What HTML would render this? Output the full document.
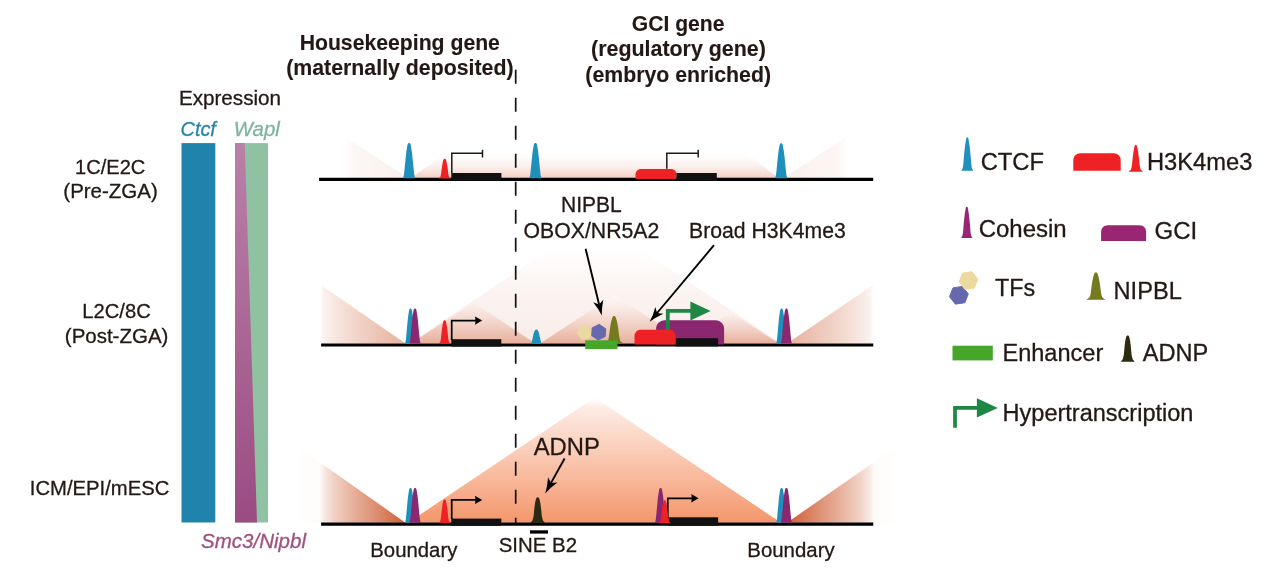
<!DOCTYPE html>
<html><head><meta charset="utf-8"><title>Model</title>
<style>
html,body{margin:0;padding:0;background:#ffffff;}
body{width:1269px;height:585px;overflow:hidden;}
svg{display:block;will-change:transform;}
svg text{font-family:"Liberation Sans",sans-serif;}
</style></head>
<body>
<svg width="1269" height="585" viewBox="0 0 1269 585">
<defs>
<linearGradient id="g1" gradientUnits="userSpaceOnUse" x1="0" y1="152" x2="0" y2="178.5"><stop offset="0" stop-color="#fefbfa" stop-opacity="0"/><stop offset="0.3" stop-color="#fdf8f6" stop-opacity="1"/><stop offset="0.51" stop-color="#fbf1ee" stop-opacity="1"/><stop offset="0.68" stop-color="#fae7e1" stop-opacity="1"/><stop offset="0.83" stop-color="#f8dbd1" stop-opacity="1"/><stop offset="1" stop-color="#f5ccbe" stop-opacity="1"/></linearGradient>
<linearGradient id="g1l" gradientUnits="userSpaceOnUse" x1="344" y1="0" x2="409" y2="0"><stop offset="0" stop-color="#fdfaf8" stop-opacity="0"/><stop offset="0.12" stop-color="#fcf8f6" stop-opacity="1"/><stop offset="1" stop-color="#faf0ec" stop-opacity="1"/></linearGradient>
<linearGradient id="g1r" gradientUnits="userSpaceOnUse" x1="849" y1="0" x2="783" y2="0"><stop offset="0" stop-color="#fdfaf8" stop-opacity="0"/><stop offset="0.12" stop-color="#fcf8f6" stop-opacity="1"/><stop offset="1" stop-color="#faf0ec" stop-opacity="1"/></linearGradient>
<linearGradient id="g2big" gradientUnits="userSpaceOnUse" x1="0" y1="247" x2="0" y2="344"><stop offset="0" stop-color="#faf2ef" stop-opacity="0"/><stop offset="0.45" stop-color="#faf1ee" stop-opacity="0.8"/><stop offset="0.85" stop-color="#f9eeea" stop-opacity="1"/><stop offset="1" stop-color="#f8ebe6" stop-opacity="1"/></linearGradient>
<linearGradient id="g2s" gradientUnits="userSpaceOnUse" x1="0" y1="296" x2="0" y2="344"><stop offset="0" stop-color="#fdf8f6" stop-opacity="1"/><stop offset="0.3" stop-color="#f8e7e1" stop-opacity="1"/><stop offset="0.65" stop-color="#f0cdc1" stop-opacity="1"/><stop offset="1" stop-color="#e8ae9a" stop-opacity="1"/></linearGradient>
<linearGradient id="g2s3" gradientUnits="userSpaceOnUse" x1="0" y1="312" x2="0" y2="344"><stop offset="0" stop-color="#fcf5f2" stop-opacity="1"/><stop offset="0.3" stop-color="#f6e1da" stop-opacity="1"/><stop offset="0.65" stop-color="#efcabd" stop-opacity="1"/><stop offset="1" stop-color="#e8ae9a" stop-opacity="1"/></linearGradient>
<linearGradient id="g2l" gradientUnits="userSpaceOnUse" x1="320" y1="0" x2="406" y2="0"><stop offset="0" stop-color="#fcf5f2" stop-opacity="0"/><stop offset="0.04" stop-color="#fbf3f0" stop-opacity="1"/><stop offset="0.13" stop-color="#f8eae5" stop-opacity="1"/><stop offset="0.37" stop-color="#f3d8ce" stop-opacity="1"/><stop offset="0.6" stop-color="#eec9bc" stop-opacity="1"/><stop offset="0.84" stop-color="#eabaa9" stop-opacity="1"/><stop offset="1" stop-color="#e8b19e" stop-opacity="1"/></linearGradient>
<linearGradient id="g2r" gradientUnits="userSpaceOnUse" x1="874" y1="0" x2="787" y2="0"><stop offset="0" stop-color="#fcf5f2" stop-opacity="0"/><stop offset="0.04" stop-color="#fbf3f0" stop-opacity="1"/><stop offset="0.13" stop-color="#f8eae5" stop-opacity="1"/><stop offset="0.37" stop-color="#f3d8ce" stop-opacity="1"/><stop offset="0.6" stop-color="#eec9bc" stop-opacity="1"/><stop offset="0.84" stop-color="#eabaa9" stop-opacity="1"/><stop offset="1" stop-color="#e8b19e" stop-opacity="1"/></linearGradient>
<linearGradient id="g3" gradientUnits="userSpaceOnUse" x1="0" y1="397" x2="0" y2="523"><stop offset="0" stop-color="#fef4f0" stop-opacity="0"/><stop offset="0.08" stop-color="#fdece5" stop-opacity="1"/><stop offset="0.35" stop-color="#fbd4c2" stop-opacity="1"/><stop offset="0.67" stop-color="#f8b698" stop-opacity="1"/><stop offset="1" stop-color="#f4966a" stop-opacity="1"/></linearGradient>
<linearGradient id="g3l" gradientUnits="userSpaceOnUse" x1="299" y1="0" x2="406" y2="0"><stop offset="0" stop-color="#fffefd" stop-opacity="1"/><stop offset="0.19" stop-color="#fefcfa" stop-opacity="1"/><stop offset="0.24" stop-color="#f8e8e1" stop-opacity="1"/><stop offset="0.327" stop-color="#f1d1c5" stop-opacity="1"/><stop offset="0.486" stop-color="#e8b4a0" stop-opacity="1"/><stop offset="0.68" stop-color="#df9479" stop-opacity="1"/><stop offset="0.87" stop-color="#d5734f" stop-opacity="1"/><stop offset="1" stop-color="#cc5b34" stop-opacity="1"/></linearGradient>
<linearGradient id="g3r" gradientUnits="userSpaceOnUse" x1="895" y1="0" x2="787" y2="0"><stop offset="0" stop-color="#fffefd" stop-opacity="1"/><stop offset="0.19" stop-color="#fefcfa" stop-opacity="1"/><stop offset="0.24" stop-color="#f8e8e1" stop-opacity="1"/><stop offset="0.327" stop-color="#f1d1c5" stop-opacity="1"/><stop offset="0.486" stop-color="#e8b4a0" stop-opacity="1"/><stop offset="0.68" stop-color="#df9479" stop-opacity="1"/><stop offset="0.87" stop-color="#d5734f" stop-opacity="1"/><stop offset="1" stop-color="#cc5b34" stop-opacity="1"/></linearGradient>
<linearGradient id="gp" gradientUnits="userSpaceOnUse" x1="0" y1="143" x2="0" y2="522"><stop offset="0" stop-color="#b981a8" stop-opacity="1"/><stop offset="1" stop-color="#9b4c82" stop-opacity="1"/></linearGradient>
</defs>
<rect x="181.5" y="143.1" width="33.8" height="379.4" fill="#2083ab"/>
<rect x="235" y="143.1" width="33" height="379.4" fill="#91c1a3"/>
<polygon points="235,143.1 244.7,143.1 257,522.5 235,522.5" fill="url(#gp)"/>
<text x="178.90" y="104.8" font-size="20.5" text-anchor="start" font-weight="normal" font-style="normal" fill="#231815" stroke="#231815" stroke-width="0.3" textLength="102.19" lengthAdjust="spacingAndGlyphs">Expression</text>
<text x="180.50" y="135.5" font-size="20.5" text-anchor="start" font-weight="normal" font-style="italic" fill="#2a84aa" stroke="#2a84aa" stroke-width="0.3" textLength="35.41" lengthAdjust="spacingAndGlyphs">Ctcf</text>
<text x="233.72" y="135.5" font-size="20.5" text-anchor="start" font-weight="normal" font-style="italic" fill="#7fb3a4" stroke="#7fb3a4" stroke-width="0.3" textLength="46.03" lengthAdjust="spacingAndGlyphs">Wapl</text>
<text x="201.04" y="548" font-size="20.5" text-anchor="start" font-weight="normal" font-style="italic" fill="#a0517f" stroke="#a0517f" stroke-width="0.3" textLength="104.91" lengthAdjust="spacingAndGlyphs">Smc3/Nipbl</text>
<text x="75.10" y="173.5" font-size="20.5" text-anchor="start" font-weight="normal" font-style="normal" fill="#231815" stroke="#231815" stroke-width="0.3" textLength="70.19" lengthAdjust="spacingAndGlyphs">1C/E2C</text>
<text x="63.32" y="197.5" font-size="20.5" text-anchor="start" font-weight="normal" font-style="normal" fill="#231815" stroke="#231815" stroke-width="0.3" textLength="94.48" lengthAdjust="spacingAndGlyphs">(Pre-ZGA)</text>
<text x="82.34" y="318" font-size="20.5" text-anchor="start" font-weight="normal" font-style="normal" fill="#231815" stroke="#231815" stroke-width="0.3" textLength="68.39" lengthAdjust="spacingAndGlyphs">L2C/8C</text>
<text x="64.82" y="342.7" font-size="20.5" text-anchor="start" font-weight="normal" font-style="normal" fill="#231815" stroke="#231815" stroke-width="0.3" textLength="103.58" lengthAdjust="spacingAndGlyphs">(Post-ZGA)</text>
<text x="29.83" y="494.9" font-size="20.5" text-anchor="start" font-weight="normal" font-style="normal" fill="#231815" stroke="#231815" stroke-width="0.3" textLength="139.48" lengthAdjust="spacingAndGlyphs">ICM/EPI/mESC</text>
<text x="299.67" y="49.6" font-size="22.0" text-anchor="start" font-weight="bold" font-style="normal" fill="#231815" stroke="#231815" stroke-width="0.12" textLength="200.26" lengthAdjust="spacingAndGlyphs">Housekeeping gene</text>
<text x="286.23" y="74.6" font-size="22.0" text-anchor="start" font-weight="bold" font-style="normal" fill="#231815" stroke="#231815" stroke-width="0.12" textLength="227.32" lengthAdjust="spacingAndGlyphs">(maternally deposited)</text>
<text x="631.75" y="31.3" font-size="22.0" text-anchor="start" font-weight="bold" font-style="normal" fill="#231815" stroke="#231815" stroke-width="0.12" textLength="92.78" lengthAdjust="spacingAndGlyphs">GCI gene</text>
<text x="591.03" y="56.4" font-size="22.0" text-anchor="start" font-weight="bold" font-style="normal" fill="#231815" stroke="#231815" stroke-width="0.12" textLength="174.86" lengthAdjust="spacingAndGlyphs">(regulatory gene)</text>
<text x="585.34" y="81.6" font-size="22.0" text-anchor="start" font-weight="bold" font-style="normal" fill="#231815" stroke="#231815" stroke-width="0.12" textLength="185.72" lengthAdjust="spacingAndGlyphs">(embryo enriched)</text>
<polygon points="344.4,137 409,178.3 344.4,178.3" fill="url(#g1l)"/>
<polygon points="849,135 783,178.3 849,178.3" fill="url(#g1r)"/>
<polygon points="410,178.3 448.5,152.5 745,152.5 779,178.3" fill="url(#g1)"/>
<line x1="319.1" y1="179.4" x2="873.2" y2="179.4" stroke="#000" stroke-width="3.3"/>
<path d="M403.10,178.30 L403.82,175.33 L404.19,172.51 L404.46,169.84 L404.72,167.33 L404.95,164.96 L405.17,162.73 L405.38,160.64 L405.58,158.70 L405.76,156.88 L405.93,155.20 L406.11,153.64 L406.29,152.21 L406.47,150.90 L406.66,149.71 L406.85,148.63 L407.02,147.66 L407.17,146.80 L407.31,146.04 L407.42,145.37 L407.53,144.80 L407.65,144.31 L407.81,143.91 L407.99,143.59 L408.19,143.34 L408.42,143.15 L408.69,143.02 L408.95,142.94 L409.07,142.91 L409.10,142.90 L409.13,142.91 L409.25,142.94 L409.51,143.02 L409.78,143.15 L410.01,143.34 L410.21,143.59 L410.39,143.91 L410.55,144.31 L410.67,144.80 L410.78,145.37 L410.89,146.04 L411.03,146.80 L411.18,147.66 L411.35,148.63 L411.54,149.71 L411.73,150.90 L411.91,152.21 L412.09,153.64 L412.27,155.20 L412.44,156.88 L412.62,158.70 L412.82,160.64 L413.03,162.73 L413.25,164.96 L413.48,167.33 L413.74,169.84 L414.01,172.51 L414.38,175.33 L415.10,178.30 Z" fill="#1f90bc"/>
<path d="M529.40,178.30 L530.12,175.33 L530.49,172.51 L530.76,169.84 L531.02,167.33 L531.25,164.96 L531.47,162.73 L531.68,160.64 L531.88,158.70 L532.06,156.88 L532.23,155.20 L532.41,153.64 L532.59,152.21 L532.77,150.90 L532.96,149.71 L533.15,148.63 L533.32,147.66 L533.47,146.80 L533.61,146.04 L533.72,145.37 L533.83,144.80 L533.95,144.31 L534.11,143.91 L534.29,143.59 L534.49,143.34 L534.72,143.15 L534.99,143.02 L535.25,142.94 L535.37,142.91 L535.40,142.90 L535.43,142.91 L535.55,142.94 L535.81,143.02 L536.08,143.15 L536.31,143.34 L536.51,143.59 L536.69,143.91 L536.85,144.31 L536.97,144.80 L537.08,145.37 L537.19,146.04 L537.33,146.80 L537.48,147.66 L537.65,148.63 L537.84,149.71 L538.03,150.90 L538.21,152.21 L538.39,153.64 L538.57,155.20 L538.74,156.88 L538.92,158.70 L539.12,160.64 L539.33,162.73 L539.55,164.96 L539.78,167.33 L540.04,169.84 L540.31,172.51 L540.68,175.33 L541.40,178.30 Z" fill="#1f90bc"/>
<path d="M775.20,178.30 L775.92,175.35 L776.29,172.56 L776.56,169.91 L776.82,167.42 L777.05,165.07 L777.27,162.86 L777.48,160.79 L777.68,158.86 L777.86,157.06 L778.03,155.40 L778.21,153.85 L778.39,152.43 L778.57,151.14 L778.76,149.95 L778.95,148.88 L779.12,147.92 L779.27,147.07 L779.41,146.31 L779.52,145.65 L779.63,145.08 L779.75,144.60 L779.91,144.20 L780.09,143.88 L780.29,143.63 L780.52,143.45 L780.79,143.32 L781.05,143.24 L781.17,143.21 L781.20,143.20 L781.23,143.21 L781.35,143.24 L781.61,143.32 L781.88,143.45 L782.11,143.63 L782.31,143.88 L782.49,144.20 L782.65,144.60 L782.77,145.08 L782.88,145.65 L782.99,146.31 L783.13,147.07 L783.28,147.92 L783.45,148.88 L783.64,149.95 L783.83,151.14 L784.01,152.43 L784.19,153.85 L784.37,155.40 L784.54,157.06 L784.72,158.86 L784.92,160.79 L785.13,162.86 L785.35,165.07 L785.58,167.42 L785.84,169.91 L786.11,172.56 L786.48,175.35 L787.20,178.30 Z" fill="#1f90bc"/>
<path d="M438.50,178.60 L440.34,176.93 L440.82,175.34 L441.08,173.85 L441.26,172.43 L441.41,171.10 L441.55,169.85 L441.70,168.68 L441.85,167.58 L442.00,166.56 L442.15,165.61 L442.29,164.74 L442.43,163.94 L442.58,163.20 L442.71,162.53 L442.85,161.92 L442.99,161.38 L443.12,160.89 L443.25,160.46 L443.36,160.09 L443.48,159.77 L443.60,159.50 L443.73,159.27 L443.87,159.09 L444.03,158.95 L444.22,158.84 L444.45,158.77 L444.61,158.72 L444.68,158.70 L444.70,158.70 L444.72,158.70 L444.79,158.72 L444.95,158.77 L445.18,158.84 L445.37,158.95 L445.53,159.09 L445.67,159.27 L445.80,159.50 L445.92,159.77 L446.04,160.09 L446.15,160.46 L446.28,160.89 L446.41,161.38 L446.55,161.92 L446.69,162.53 L446.82,163.20 L446.97,163.94 L447.11,164.74 L447.25,165.61 L447.40,166.56 L447.55,167.58 L447.70,168.68 L447.85,169.85 L447.99,171.10 L448.14,172.43 L448.32,173.85 L448.58,175.34 L449.06,176.93 L450.90,178.60 Z" fill="#ee2224"/>
<rect x="451.3" y="173" width="50.1" height="7.6" fill="#111111"/>
<path d="M451.8,173 V153.3 H482.5 M482.5,149.8 V157.6" stroke="#1a1a1a" stroke-width="1.5" fill="none"/>
<path d="M635.5,179 L635.5,174.4 C635.5,171.375 637.975,168.9 641.0,168.9 L671.1,168.9 C674.125,168.9 676.6,171.375 676.6,174.4 L676.6,179 Z" fill="#ee2224"/>
<rect x="676.4" y="173" width="40.4" height="7.6" fill="#111111"/>
<path d="M666.8,168.8 V153.3 H698.2 M698.2,149.8 V157.6" stroke="#1a1a1a" stroke-width="1.5" fill="none"/>
<polygon points="320.2,284.4 405.5,343.6 320.2,343.6" fill="url(#g2l)"/>
<polygon points="873.8,284.4 787,343.6 873.8,343.6" fill="url(#g2r)"/>
<polygon points="409,343.6 595,219 781,343.6" fill="url(#g2big)"/>
<polygon points="411,343.6 473.4,302.6 535.5,343.6" fill="url(#g2s)"/>
<polygon points="540,343.6 614.3,295 689,343.6" fill="url(#g2s)"/>
<polygon points="684,343.6 730.6,312 779,343.6" fill="url(#g2s3)"/>
<line x1="321.1" y1="345" x2="873.3" y2="345" stroke="#000" stroke-width="3.2"/>
<path d="M405.10,343.60 L405.75,340.65 L406.08,337.86 L406.32,335.21 L406.56,332.72 L406.77,330.37 L406.96,328.16 L407.15,326.09 L407.33,324.16 L407.49,322.36 L407.65,320.70 L407.81,319.15 L407.97,317.73 L408.13,316.44 L408.30,315.25 L408.47,314.18 L408.63,313.22 L408.76,312.37 L408.89,311.61 L408.99,310.95 L409.08,310.38 L409.20,309.90 L409.34,309.50 L409.50,309.18 L409.68,308.93 L409.89,308.75 L410.13,308.62 L410.36,308.54 L410.48,308.51 L410.50,308.50 L410.52,308.51 L410.64,308.54 L410.87,308.62 L411.11,308.75 L411.32,308.93 L411.50,309.18 L411.66,309.50 L411.80,309.90 L411.92,310.38 L412.01,310.95 L412.11,311.61 L412.24,312.37 L412.37,313.22 L412.53,314.18 L412.70,315.25 L412.87,316.44 L413.03,317.73 L413.19,319.15 L413.35,320.70 L413.51,322.36 L413.67,324.16 L413.85,326.09 L414.04,328.16 L414.23,330.37 L414.44,332.72 L414.68,335.21 L414.92,337.86 L415.25,340.65 L415.90,343.60 Z" fill="#1f90bc"/>
<path d="M409.48,343.60 L410.15,340.65 L410.48,337.86 L410.73,335.21 L410.97,332.72 L411.19,330.37 L411.39,328.16 L411.58,326.09 L411.76,324.16 L411.92,322.36 L412.09,320.70 L412.25,319.15 L412.41,317.73 L412.58,316.44 L412.76,315.25 L412.93,314.18 L413.08,313.22 L413.23,312.37 L413.35,311.61 L413.45,310.95 L413.55,310.38 L413.67,309.90 L413.82,309.50 L413.98,309.18 L414.16,308.93 L414.38,308.75 L414.63,308.62 L414.86,308.54 L414.97,308.51 L415.00,308.50 L415.03,308.51 L415.14,308.54 L415.37,308.62 L415.62,308.75 L415.84,308.93 L416.02,309.18 L416.18,309.50 L416.33,309.90 L416.45,310.38 L416.55,310.95 L416.65,311.61 L416.77,312.37 L416.92,313.22 L417.07,314.18 L417.24,315.25 L417.42,316.44 L417.59,317.73 L417.75,319.15 L417.91,320.70 L418.08,322.36 L418.24,324.16 L418.42,326.09 L418.61,328.16 L418.81,330.37 L419.03,332.72 L419.27,335.21 L419.52,337.86 L419.85,340.65 L420.52,343.60 Z" fill="#8b2671"/>
<path d="M776.20,343.60 L776.85,340.65 L777.18,337.86 L777.42,335.21 L777.66,332.72 L777.87,330.37 L778.06,328.16 L778.25,326.09 L778.43,324.16 L778.59,322.36 L778.75,320.70 L778.91,319.15 L779.07,317.73 L779.23,316.44 L779.40,315.25 L779.57,314.18 L779.73,313.22 L779.86,312.37 L779.99,311.61 L780.09,310.95 L780.18,310.38 L780.30,309.90 L780.44,309.50 L780.60,309.18 L780.78,308.93 L780.99,308.75 L781.23,308.62 L781.46,308.54 L781.58,308.51 L781.60,308.50 L781.62,308.51 L781.74,308.54 L781.97,308.62 L782.21,308.75 L782.42,308.93 L782.60,309.18 L782.76,309.50 L782.90,309.90 L783.02,310.38 L783.11,310.95 L783.21,311.61 L783.34,312.37 L783.47,313.22 L783.63,314.18 L783.80,315.25 L783.97,316.44 L784.13,317.73 L784.29,319.15 L784.45,320.70 L784.61,322.36 L784.77,324.16 L784.95,326.09 L785.14,328.16 L785.33,330.37 L785.54,332.72 L785.78,335.21 L786.02,337.86 L786.35,340.65 L787.00,343.60 Z" fill="#1f90bc"/>
<path d="M780.88,343.60 L781.55,340.65 L781.88,337.86 L782.13,335.21 L782.37,332.72 L782.59,330.37 L782.79,328.16 L782.98,326.09 L783.16,324.16 L783.32,322.36 L783.49,320.70 L783.65,319.15 L783.81,317.73 L783.98,316.44 L784.16,315.25 L784.33,314.18 L784.48,313.22 L784.63,312.37 L784.75,311.61 L784.85,310.95 L784.95,310.38 L785.07,309.90 L785.22,309.50 L785.38,309.18 L785.56,308.93 L785.78,308.75 L786.03,308.62 L786.26,308.54 L786.37,308.51 L786.40,308.50 L786.43,308.51 L786.54,308.54 L786.77,308.62 L787.02,308.75 L787.24,308.93 L787.42,309.18 L787.58,309.50 L787.73,309.90 L787.85,310.38 L787.95,310.95 L788.05,311.61 L788.17,312.37 L788.32,313.22 L788.47,314.18 L788.64,315.25 L788.82,316.44 L788.99,317.73 L789.15,319.15 L789.31,320.70 L789.48,322.36 L789.64,324.16 L789.82,326.09 L790.01,328.16 L790.21,330.37 L790.43,332.72 L790.67,335.21 L790.92,337.86 L791.25,340.65 L791.92,343.60 Z" fill="#8b2671"/>
<path d="M438.40,343.90 L440.24,341.90 L440.72,340.01 L440.98,338.21 L441.16,336.52 L441.31,334.93 L441.45,333.43 L441.60,332.03 L441.75,330.72 L441.90,329.50 L442.05,328.37 L442.19,327.32 L442.33,326.36 L442.48,325.48 L442.61,324.68 L442.75,323.95 L442.89,323.30 L443.02,322.72 L443.15,322.21 L443.26,321.76 L443.38,321.38 L443.50,321.05 L443.63,320.78 L443.77,320.56 L443.93,320.39 L444.12,320.27 L444.35,320.18 L444.51,320.13 L444.58,320.11 L444.60,320.10 L444.62,320.11 L444.69,320.13 L444.85,320.18 L445.08,320.27 L445.27,320.39 L445.43,320.56 L445.57,320.78 L445.70,321.05 L445.82,321.38 L445.94,321.76 L446.05,322.21 L446.18,322.72 L446.31,323.30 L446.45,323.95 L446.59,324.68 L446.72,325.48 L446.87,326.36 L447.01,327.32 L447.15,328.37 L447.30,329.50 L447.45,330.72 L447.60,332.03 L447.75,333.43 L447.89,334.93 L448.04,336.52 L448.22,338.21 L448.48,340.01 L448.96,341.90 L450.80,343.90 Z" fill="#ee2224"/>
<path d="M531.40,343.60 C533.30,335.79 533.90,329.40 536.40,329.40 C538.90,329.40 539.50,335.79 541.40,343.60 Z" fill="#1f90bc"/>
<rect x="451.3" y="339.2" width="50" height="7.4" fill="#111111"/>
<path d="M451.7,340 V320.6 H476" stroke="#000" stroke-width="1.7" fill="none"/><path d="M475,316.40000000000003 L482.2,320.6 L475,324.8 Q476,320.6 475,316.40000000000003 Z" fill="#000"/>
<polygon points="591.87,331.96 588.79,338.58 581.51,339.22 577.33,333.24 580.41,326.62 587.69,325.98" fill="#ecd9a0" stroke="#ecd9a0" stroke-width="1" stroke-linejoin="round"/>
<polygon points="605.17,336.56 598.16,339.98 591.69,335.62 592.23,327.84 599.24,324.42 605.71,328.78" fill="#6668ae" stroke="#6668ae" stroke-width="1" stroke-linejoin="round"/>
<path d="M604.50,343.80 L607.61,341.46 L608.48,339.24 L608.86,337.13 L609.14,335.15 L609.39,333.28 L609.60,331.53 L609.80,329.89 L610.02,328.35 L610.23,326.92 L610.45,325.59 L610.66,324.37 L610.87,323.24 L611.08,322.21 L611.29,321.27 L611.51,320.42 L611.72,319.65 L611.92,318.97 L612.11,318.37 L612.30,317.85 L612.47,317.40 L612.64,317.02 L612.82,316.70 L613.01,316.44 L613.22,316.24 L613.45,316.10 L613.75,316.00 L613.97,315.93 L614.08,315.91 L614.10,315.90 L614.12,315.91 L614.23,315.93 L614.45,316.00 L614.75,316.10 L614.98,316.24 L615.19,316.44 L615.38,316.70 L615.56,317.02 L615.73,317.40 L615.90,317.85 L616.09,318.37 L616.28,318.97 L616.48,319.65 L616.69,320.42 L616.91,321.27 L617.12,322.21 L617.33,323.24 L617.54,324.37 L617.75,325.59 L617.97,326.92 L618.18,328.35 L618.40,329.89 L618.60,331.53 L618.81,333.28 L619.06,335.15 L619.34,337.13 L619.72,339.24 L620.59,341.46 L623.70,343.80 Z" fill="#767a1f"/>
<rect x="585.2" y="340.3" width="32.3" height="8.8" fill="#45a62a"/>
<path d="M656.1,344.5 L656.1,328.8 C656.1,324.125 659.9250000000001,320.3 664.6,320.3 L715.6,320.3 C720.275,320.3 724.1,324.125 724.1,328.8 L724.1,344.5 Z" fill="#8b2671"/>
<rect x="675.6" y="338.2" width="42.5" height="8.2" fill="#111111"/>
<path d="M634.5,344.5 L634.5,335.7 C634.5,332.4 637.2,329.7 640.5,329.7 L669.6,329.7 C672.9,329.7 675.6,332.4 675.6,335.7 L675.6,344.5 Z" fill="#ee2224"/>
<path d="M667.8,330 V310.9 H691" stroke="#1f8746" stroke-width="3.8" fill="none"/>
<polygon points="690.4,301.5 710.6,311 690.4,320.6" fill="#1f8746"/>
<text x="560.96" y="211.8" font-size="21.4" text-anchor="start" font-weight="normal" font-style="normal" fill="#231815" stroke="#231815" stroke-width="0.3" textLength="60.82" lengthAdjust="spacingAndGlyphs">NIPBL</text>
<text x="523.49" y="237.8" font-size="21.4" text-anchor="start" font-weight="normal" font-style="normal" fill="#231815" stroke="#231815" stroke-width="0.3" textLength="135.80" lengthAdjust="spacingAndGlyphs">OBOX/NR5A2</text>
<text x="689.05" y="237.8" font-size="21.4" text-anchor="start" font-weight="normal" font-style="normal" fill="#231815" stroke="#231815" stroke-width="0.3" textLength="156.66" lengthAdjust="spacingAndGlyphs">Broad H3K4me3</text>
<line x1="585.60" y1="248.70" x2="599.09" y2="304.42" stroke="#000" stroke-width="1.9"/><path d="M601.80,315.60 Q598.42,308.70 593.22,302.25 L599.09,304.42 L603.32,299.80 Q601.65,307.92 601.80,315.60 Z" fill="#000"/>
<line x1="714.00" y1="245.20" x2="657.09" y2="312.99" stroke="#000" stroke-width="1.9"/><path d="M649.70,321.80 Q653.25,314.99 655.36,306.97 L657.09,312.99 L663.33,313.65 Q655.80,317.13 649.70,321.80 Z" fill="#000"/>
<polygon points="299,447.5 405.4,522.7 299,522.7" fill="url(#g3l)"/>
<polygon points="895,447.5 787,522.7 895,522.7" fill="url(#g3r)"/>
<polygon points="408,522.7 594.6,397.4 781,522.7" fill="url(#g3)"/>
<line x1="321.1" y1="524.2" x2="873.3" y2="524.2" stroke="#000" stroke-width="3.2"/>
<path d="M405.10,522.70 L405.75,519.78 L406.08,517.01 L406.32,514.39 L406.56,511.91 L406.77,509.58 L406.96,507.39 L407.15,505.34 L407.33,503.43 L407.49,501.65 L407.65,499.99 L407.81,498.46 L407.97,497.06 L408.13,495.77 L408.30,494.60 L408.47,493.54 L408.63,492.58 L408.76,491.73 L408.89,490.98 L408.99,490.33 L409.08,489.77 L409.20,489.29 L409.34,488.90 L409.50,488.58 L409.68,488.33 L409.89,488.15 L410.13,488.02 L410.36,487.94 L410.48,487.91 L410.50,487.90 L410.52,487.91 L410.64,487.94 L410.87,488.02 L411.11,488.15 L411.32,488.33 L411.50,488.58 L411.66,488.90 L411.80,489.29 L411.92,489.77 L412.01,490.33 L412.11,490.98 L412.24,491.73 L412.37,492.58 L412.53,493.54 L412.70,494.60 L412.87,495.77 L413.03,497.06 L413.19,498.46 L413.35,499.99 L413.51,501.65 L413.67,503.43 L413.85,505.34 L414.04,507.39 L414.23,509.58 L414.44,511.91 L414.68,514.39 L414.92,517.01 L415.25,519.78 L415.90,522.70 Z" fill="#1f90bc"/>
<path d="M409.58,522.70 L410.25,519.78 L410.58,517.01 L410.83,514.39 L411.07,511.91 L411.29,509.58 L411.49,507.39 L411.68,505.34 L411.86,503.43 L412.02,501.65 L412.19,499.99 L412.35,498.46 L412.51,497.06 L412.68,495.77 L412.86,494.60 L413.03,493.54 L413.18,492.58 L413.33,491.73 L413.45,490.98 L413.55,490.33 L413.65,489.77 L413.77,489.29 L413.92,488.90 L414.08,488.58 L414.26,488.33 L414.48,488.15 L414.73,488.02 L414.96,487.94 L415.07,487.91 L415.10,487.90 L415.13,487.91 L415.24,487.94 L415.47,488.02 L415.72,488.15 L415.94,488.33 L416.12,488.58 L416.28,488.90 L416.43,489.29 L416.55,489.77 L416.65,490.33 L416.75,490.98 L416.87,491.73 L417.02,492.58 L417.17,493.54 L417.34,494.60 L417.52,495.77 L417.69,497.06 L417.85,498.46 L418.01,499.99 L418.18,501.65 L418.34,503.43 L418.52,505.34 L418.71,507.39 L418.91,509.58 L419.13,511.91 L419.37,514.39 L419.62,517.01 L419.95,519.78 L420.62,522.70 Z" fill="#8b2671"/>
<path d="M776.20,522.70 L776.85,519.78 L777.18,517.01 L777.42,514.39 L777.66,511.91 L777.87,509.58 L778.06,507.39 L778.25,505.34 L778.43,503.43 L778.59,501.65 L778.75,499.99 L778.91,498.46 L779.07,497.06 L779.23,495.77 L779.40,494.60 L779.57,493.54 L779.73,492.58 L779.86,491.73 L779.99,490.98 L780.09,490.33 L780.18,489.77 L780.30,489.29 L780.44,488.90 L780.60,488.58 L780.78,488.33 L780.99,488.15 L781.23,488.02 L781.46,487.94 L781.58,487.91 L781.60,487.90 L781.62,487.91 L781.74,487.94 L781.97,488.02 L782.21,488.15 L782.42,488.33 L782.60,488.58 L782.76,488.90 L782.90,489.29 L783.02,489.77 L783.11,490.33 L783.21,490.98 L783.34,491.73 L783.47,492.58 L783.63,493.54 L783.80,494.60 L783.97,495.77 L784.13,497.06 L784.29,498.46 L784.45,499.99 L784.61,501.65 L784.77,503.43 L784.95,505.34 L785.14,507.39 L785.33,509.58 L785.54,511.91 L785.78,514.39 L786.02,517.01 L786.35,519.78 L787.00,522.70 Z" fill="#1f90bc"/>
<path d="M780.88,522.70 L781.55,519.78 L781.88,517.01 L782.13,514.39 L782.37,511.91 L782.59,509.58 L782.79,507.39 L782.98,505.34 L783.16,503.43 L783.32,501.65 L783.49,499.99 L783.65,498.46 L783.81,497.06 L783.98,495.77 L784.16,494.60 L784.33,493.54 L784.48,492.58 L784.63,491.73 L784.75,490.98 L784.85,490.33 L784.95,489.77 L785.07,489.29 L785.22,488.90 L785.38,488.58 L785.56,488.33 L785.78,488.15 L786.03,488.02 L786.26,487.94 L786.37,487.91 L786.40,487.90 L786.43,487.91 L786.54,487.94 L786.77,488.02 L787.02,488.15 L787.24,488.33 L787.42,488.58 L787.58,488.90 L787.73,489.29 L787.85,489.77 L787.95,490.33 L788.05,490.98 L788.17,491.73 L788.32,492.58 L788.47,493.54 L788.64,494.60 L788.82,495.77 L788.99,497.06 L789.15,498.46 L789.31,499.99 L789.48,501.65 L789.64,503.43 L789.82,505.34 L790.01,507.39 L790.21,509.58 L790.43,511.91 L790.67,514.39 L790.92,517.01 L791.25,519.78 L791.92,522.70 Z" fill="#8b2671"/>
<path d="M438.40,523.00 L440.24,521.02 L440.72,519.14 L440.98,517.36 L441.16,515.68 L441.31,514.10 L441.45,512.62 L441.60,511.23 L441.75,509.93 L441.90,508.72 L442.05,507.60 L442.19,506.56 L442.33,505.61 L442.48,504.74 L442.61,503.94 L442.75,503.22 L442.89,502.58 L443.02,502.00 L443.15,501.49 L443.26,501.05 L443.38,500.67 L443.50,500.34 L443.63,500.08 L443.77,499.86 L443.93,499.69 L444.12,499.57 L444.35,499.48 L444.51,499.43 L444.58,499.41 L444.60,499.40 L444.62,499.41 L444.69,499.43 L444.85,499.48 L445.08,499.57 L445.27,499.69 L445.43,499.86 L445.57,500.08 L445.70,500.34 L445.82,500.67 L445.94,501.05 L446.05,501.49 L446.18,502.00 L446.31,502.58 L446.45,503.22 L446.59,503.94 L446.72,504.74 L446.87,505.61 L447.01,506.56 L447.15,507.60 L447.30,508.72 L447.45,509.93 L447.60,511.23 L447.75,512.62 L447.89,514.10 L448.04,515.68 L448.22,517.36 L448.48,519.14 L448.96,521.02 L450.80,523.00 Z" fill="#ee2224"/>
<rect x="451.3" y="518.6" width="50" height="7.2" fill="#111111"/>
<path d="M451.7,519 V499.9 H476" stroke="#000" stroke-width="1.7" fill="none"/><path d="M475,495.7 L482.2,499.9 L475,504.09999999999997 Q476,499.9 475,495.7 Z" fill="#000"/>
<path d="M530.33,522.90 L532.26,520.74 L533.01,518.70 L533.47,516.76 L533.72,514.93 L533.89,513.21 L534.03,511.60 L534.18,510.08 L534.34,508.67 L534.49,507.35 L534.64,506.13 L534.79,505.00 L534.94,503.96 L535.09,503.01 L535.25,502.14 L535.41,501.36 L535.57,500.66 L535.73,500.03 L535.88,499.48 L536.01,498.99 L536.13,498.58 L536.26,498.23 L536.42,497.94 L536.62,497.70 L536.84,497.52 L537.09,497.38 L537.38,497.29 L537.58,497.23 L537.68,497.21 L537.70,497.20 L537.72,497.21 L537.82,497.23 L538.02,497.29 L538.31,497.38 L538.56,497.52 L538.78,497.70 L538.98,497.94 L539.14,498.23 L539.27,498.58 L539.39,498.99 L539.52,499.48 L539.67,500.03 L539.83,500.66 L539.99,501.36 L540.15,502.14 L540.31,503.01 L540.46,503.96 L540.61,505.00 L540.76,506.13 L540.91,507.35 L541.06,508.67 L541.22,510.08 L541.37,511.60 L541.51,513.21 L541.68,514.93 L541.93,516.76 L542.39,518.70 L543.14,520.74 L545.07,522.90 Z" fill="#2b2a12"/>
<rect x="530" y="530.3" width="18" height="3.3" fill="#000"/>
<rect x="668.1" y="517.3" width="50" height="8.5" fill="#111111"/>
<path d="M667.8,518 V498.3 H692.3" stroke="#000" stroke-width="1.7" fill="none"/><path d="M691.3,494.1 L698.5,498.3 L691.3,502.5 Q692.3,498.3 691.3,494.1 Z" fill="#000"/>
<path d="M655.08,522.70 L655.75,519.78 L656.08,517.01 L656.33,514.39 L656.57,511.91 L656.79,509.58 L656.99,507.39 L657.18,505.34 L657.36,503.43 L657.52,501.65 L657.69,499.99 L657.85,498.46 L658.01,497.06 L658.18,495.77 L658.36,494.60 L658.53,493.54 L658.68,492.58 L658.83,491.73 L658.95,490.98 L659.05,490.33 L659.15,489.77 L659.27,489.29 L659.42,488.90 L659.58,488.58 L659.76,488.33 L659.98,488.15 L660.23,488.02 L660.46,487.94 L660.57,487.91 L660.60,487.90 L660.63,487.91 L660.74,487.94 L660.97,488.02 L661.22,488.15 L661.44,488.33 L661.62,488.58 L661.78,488.90 L661.93,489.29 L662.05,489.77 L662.15,490.33 L662.25,490.98 L662.37,491.73 L662.52,492.58 L662.67,493.54 L662.84,494.60 L663.02,495.77 L663.19,497.06 L663.35,498.46 L663.51,499.99 L663.68,501.65 L663.84,503.43 L664.02,505.34 L664.21,507.39 L664.41,509.58 L664.63,511.91 L664.87,514.39 L665.12,517.01 L665.45,519.78 L666.12,522.70 Z" fill="#8b2671"/>
<path d="M658.60,523.20 L660.44,521.27 L660.92,519.44 L661.18,517.71 L661.36,516.07 L661.51,514.53 L661.65,513.08 L661.80,511.73 L661.95,510.46 L662.10,509.28 L662.25,508.19 L662.39,507.18 L662.53,506.25 L662.68,505.40 L662.81,504.63 L662.95,503.92 L663.09,503.29 L663.22,502.73 L663.35,502.24 L663.46,501.81 L663.58,501.43 L663.70,501.12 L663.83,500.86 L663.97,500.65 L664.13,500.48 L664.32,500.36 L664.55,500.28 L664.71,500.23 L664.78,500.21 L664.80,500.20 L664.82,500.21 L664.89,500.23 L665.05,500.28 L665.28,500.36 L665.47,500.48 L665.63,500.65 L665.77,500.86 L665.90,501.12 L666.02,501.43 L666.14,501.81 L666.25,502.24 L666.38,502.73 L666.51,503.29 L666.65,503.92 L666.79,504.63 L666.92,505.40 L667.07,506.25 L667.21,507.18 L667.35,508.19 L667.50,509.28 L667.65,510.46 L667.80,511.73 L667.95,513.08 L668.09,514.53 L668.24,516.07 L668.42,517.71 L668.68,519.44 L669.16,521.27 L671.00,523.20 Z" fill="#ee2224"/>
<text x="533.74" y="454.8" font-size="23.6" text-anchor="start" font-weight="normal" font-style="normal" fill="#231815" stroke="#231815" stroke-width="0.3" textLength="66.07" lengthAdjust="spacingAndGlyphs">ADNP</text>
<line x1="564.60" y1="458.50" x2="551.03" y2="482.91" stroke="#000" stroke-width="1.9"/><path d="M545.20,493.40 Q547.48,485.80 548.10,477.28 L551.03,482.91 L557.36,482.43 Q550.45,487.45 545.20,493.40 Z" fill="#000"/>
<text x="370.32" y="556.8" font-size="20.5" text-anchor="start" font-weight="normal" font-style="normal" fill="#231815" stroke="#231815" stroke-width="0.3" textLength="87.05" lengthAdjust="spacingAndGlyphs">Boundary</text>
<text x="747.32" y="556.8" font-size="20.5" text-anchor="start" font-weight="normal" font-style="normal" fill="#231815" stroke="#231815" stroke-width="0.3" textLength="87.35" lengthAdjust="spacingAndGlyphs">Boundary</text>
<text x="498.78" y="552" font-size="20.5" text-anchor="start" font-weight="normal" font-style="normal" fill="#231815" stroke="#231815" stroke-width="0.3" textLength="78.24" lengthAdjust="spacingAndGlyphs">SINE B2</text>
<line x1="515.7" y1="69.7" x2="515.7" y2="524" stroke="#111" stroke-width="1.7" stroke-dasharray="14 14"/>
<path d="M961.40,170.80 L962.77,167.99 L963.19,165.32 L963.44,162.80 L963.63,160.42 L963.79,158.17 L963.97,156.07 L964.16,154.09 L964.33,152.25 L964.51,150.53 L964.68,148.94 L964.85,147.47 L965.02,146.11 L965.19,144.87 L965.35,143.75 L965.51,142.72 L965.66,141.81 L965.79,140.99 L965.91,140.27 L966.00,139.64 L966.10,139.10 L966.20,138.64 L966.32,138.26 L966.46,137.95 L966.61,137.71 L966.76,137.54 L966.93,137.42 L967.15,137.34 L967.27,137.31 L967.30,137.30 L967.33,137.31 L967.45,137.34 L967.67,137.42 L967.84,137.54 L967.99,137.71 L968.14,137.95 L968.28,138.26 L968.40,138.64 L968.50,139.10 L968.60,139.64 L968.69,140.27 L968.81,140.99 L968.94,141.81 L969.09,142.72 L969.25,143.75 L969.41,144.87 L969.58,146.11 L969.75,147.47 L969.92,148.94 L970.09,150.53 L970.27,152.25 L970.44,154.09 L970.63,156.07 L970.81,158.17 L970.97,160.42 L971.16,162.80 L971.41,165.32 L971.83,167.99 L973.20,170.80 Z" fill="#1f90bc"/>
<text x="980.71" y="170.4" font-size="23.0" text-anchor="start" font-weight="normal" font-style="normal" fill="#231815" stroke="#231815" stroke-width="0.3" textLength="63.26" lengthAdjust="spacingAndGlyphs">CTCF</text>
<path d="M1073.3,170.8 L1073.3,160.2 C1073.3,156.35 1076.45,153.2 1080.3,153.2 L1113.7,153.2 C1117.55,153.2 1120.7,156.35 1120.7,160.2 L1120.7,170.8 Z" fill="#ee2224"/>
<path d="M1128.50,171.70 L1130.96,169.44 L1131.53,167.30 L1131.86,165.27 L1132.10,163.36 L1132.30,161.56 L1132.47,159.87 L1132.66,158.28 L1132.85,156.80 L1133.02,155.43 L1133.19,154.15 L1133.34,152.96 L1133.49,151.88 L1133.64,150.88 L1133.78,149.98 L1133.92,149.16 L1134.06,148.42 L1134.20,147.76 L1134.33,147.18 L1134.45,146.68 L1134.57,146.24 L1134.69,145.88 L1134.82,145.57 L1134.96,145.32 L1135.12,145.13 L1135.29,144.99 L1135.52,144.89 L1135.70,144.83 L1135.78,144.81 L1135.80,144.80 L1135.82,144.81 L1135.90,144.83 L1136.08,144.89 L1136.31,144.99 L1136.48,145.13 L1136.64,145.32 L1136.78,145.57 L1136.91,145.88 L1137.03,146.24 L1137.15,146.68 L1137.27,147.18 L1137.40,147.76 L1137.54,148.42 L1137.68,149.16 L1137.82,149.98 L1137.96,150.88 L1138.11,151.88 L1138.26,152.96 L1138.41,154.15 L1138.58,155.43 L1138.75,156.80 L1138.94,158.28 L1139.13,159.87 L1139.30,161.56 L1139.50,163.36 L1139.74,165.27 L1140.07,167.30 L1140.64,169.44 L1143.10,171.70 Z" fill="#ee2224"/>
<text x="1146.94" y="170.4" font-size="23.0" text-anchor="start" font-weight="normal" font-style="normal" fill="#231815" stroke="#231815" stroke-width="0.3" textLength="105.51" lengthAdjust="spacingAndGlyphs">H3K4me3</text>
<path d="M961.25,238.00 L962.54,235.37 L962.94,232.88 L963.17,230.52 L963.35,228.30 L963.50,226.20 L963.67,224.23 L963.85,222.39 L964.01,220.67 L964.17,219.06 L964.33,217.58 L964.49,216.20 L964.65,214.94 L964.81,213.78 L964.97,212.72 L965.12,211.77 L965.25,210.91 L965.38,210.15 L965.49,209.47 L965.58,208.89 L965.67,208.38 L965.77,207.95 L965.88,207.60 L966.01,207.31 L966.15,207.09 L966.29,206.92 L966.46,206.81 L966.66,206.74 L966.78,206.71 L966.80,206.70 L966.82,206.71 L966.94,206.74 L967.14,206.81 L967.31,206.92 L967.45,207.09 L967.59,207.31 L967.72,207.60 L967.83,207.95 L967.93,208.38 L968.02,208.89 L968.11,209.47 L968.22,210.15 L968.35,210.91 L968.48,211.77 L968.63,212.72 L968.79,213.78 L968.95,214.94 L969.11,216.20 L969.27,217.58 L969.43,219.06 L969.59,220.67 L969.75,222.39 L969.93,224.23 L970.10,226.20 L970.25,228.30 L970.43,230.52 L970.66,232.88 L971.06,235.37 L972.35,238.00 Z" fill="#9a2573"/>
<text x="978.70" y="236.7" font-size="23.0" text-anchor="start" font-weight="normal" font-style="normal" fill="#231815" stroke="#231815" stroke-width="0.3" textLength="88.00" lengthAdjust="spacingAndGlyphs">Cohesin</text>
<path d="M1101.1,241.1 L1101.1,231.8 C1101.1,228.22500000000002 1104.0249999999999,225.3 1107.6,225.3 L1139.6,225.3 C1143.175,225.3 1146.1,228.22500000000002 1146.1,231.8 L1146.1,241.1 Z" fill="#9a2573"/>
<text x="1154.60" y="239.0" font-size="23.0" text-anchor="start" font-weight="normal" font-style="normal" fill="#231815" stroke="#231815" stroke-width="0.3" textLength="42.63" lengthAdjust="spacingAndGlyphs">GCI</text>
<polygon points="968.29,293.88 964.83,302.72 955.43,304.15 949.51,296.72 952.97,287.88 962.37,286.45" fill="#6668ae" stroke="#6668ae" stroke-width="1" stroke-linejoin="round"/>
<polygon points="977.90,279.21 974.40,288.05 965.00,289.43 959.10,281.99 962.60,273.15 972.00,271.77" fill="#ecd9a0" stroke="#ecd9a0" stroke-width="1" stroke-linejoin="round"/>
<text x="994.97" y="296.1" font-size="23.0" text-anchor="start" font-weight="normal" font-style="normal" fill="#231815" stroke="#231815" stroke-width="0.3" textLength="40.23" lengthAdjust="spacingAndGlyphs">TFs</text>
<path d="M1086.30,299.80 L1089.41,297.49 L1090.28,295.30 L1090.66,293.23 L1090.94,291.28 L1091.19,289.43 L1091.40,287.70 L1091.60,286.08 L1091.82,284.57 L1092.03,283.16 L1092.25,281.85 L1092.46,280.65 L1092.67,279.54 L1092.88,278.52 L1093.09,277.59 L1093.31,276.75 L1093.52,276.00 L1093.72,275.33 L1093.91,274.74 L1094.10,274.22 L1094.27,273.78 L1094.44,273.40 L1094.62,273.09 L1094.81,272.84 L1095.02,272.64 L1095.25,272.49 L1095.55,272.39 L1095.77,272.33 L1095.88,272.31 L1095.90,272.30 L1095.92,272.31 L1096.03,272.33 L1096.25,272.39 L1096.55,272.49 L1096.78,272.64 L1096.99,272.84 L1097.18,273.09 L1097.36,273.40 L1097.53,273.78 L1097.70,274.22 L1097.89,274.74 L1098.08,275.33 L1098.28,276.00 L1098.49,276.75 L1098.71,277.59 L1098.92,278.52 L1099.13,279.54 L1099.34,280.65 L1099.55,281.85 L1099.77,283.16 L1099.98,284.57 L1100.20,286.08 L1100.40,287.70 L1100.61,289.43 L1100.86,291.28 L1101.14,293.23 L1101.52,295.30 L1102.39,297.49 L1105.50,299.80 Z" fill="#767a1f"/>
<text x="1113.55" y="298.6" font-size="23.0" text-anchor="start" font-weight="normal" font-style="normal" fill="#231815" stroke="#231815" stroke-width="0.3" textLength="68.32" lengthAdjust="spacingAndGlyphs">NIPBL</text>
<rect x="952.5" y="345.7" width="40.3" height="14.7" fill="#45a62a"/>
<text x="1002.46" y="361" font-size="23.0" text-anchor="start" font-weight="normal" font-style="normal" fill="#231815" stroke="#231815" stroke-width="0.3" textLength="100.82" lengthAdjust="spacingAndGlyphs">Enhancer</text>
<path d="M1120.73,361.80 L1122.56,359.58 L1123.26,357.48 L1123.70,355.49 L1123.94,353.62 L1124.09,351.85 L1124.23,350.19 L1124.37,348.63 L1124.52,347.18 L1124.66,345.83 L1124.80,344.57 L1124.94,343.41 L1125.09,342.35 L1125.23,341.37 L1125.38,340.48 L1125.53,339.67 L1125.69,338.95 L1125.84,338.31 L1125.98,337.74 L1126.10,337.24 L1126.21,336.82 L1126.34,336.46 L1126.49,336.16 L1126.68,335.91 L1126.89,335.73 L1127.13,335.59 L1127.40,335.49 L1127.59,335.43 L1127.68,335.41 L1127.70,335.40 L1127.72,335.41 L1127.81,335.43 L1128.00,335.49 L1128.27,335.59 L1128.51,335.73 L1128.72,335.91 L1128.91,336.16 L1129.06,336.46 L1129.19,336.82 L1129.30,337.24 L1129.42,337.74 L1129.56,338.31 L1129.71,338.95 L1129.87,339.67 L1130.02,340.48 L1130.17,341.37 L1130.31,342.35 L1130.46,343.41 L1130.60,344.57 L1130.74,345.83 L1130.88,347.18 L1131.03,348.63 L1131.17,350.19 L1131.31,351.85 L1131.46,353.62 L1131.70,355.49 L1132.14,357.48 L1132.84,359.58 L1134.67,361.80 Z" fill="#2b2a12"/>
<text x="1142.84" y="361" font-size="23.0" text-anchor="start" font-weight="normal" font-style="normal" fill="#231815" stroke="#231815" stroke-width="0.3" textLength="65.46" lengthAdjust="spacingAndGlyphs">ADNP</text>
<path d="M955,427.85 V407.85 H977.5" stroke="#1f8746" stroke-width="3.75" fill="none"/>
<polygon points="976.9,398.3 997.7,407.9 976.9,417.5" fill="#1f8746"/>
<text x="1002.56" y="420.9" font-size="23.0" text-anchor="start" font-weight="normal" font-style="normal" fill="#231815" stroke="#231815" stroke-width="0.3" textLength="190.92" lengthAdjust="spacingAndGlyphs">Hypertranscription</text>
</svg>
</body></html>
